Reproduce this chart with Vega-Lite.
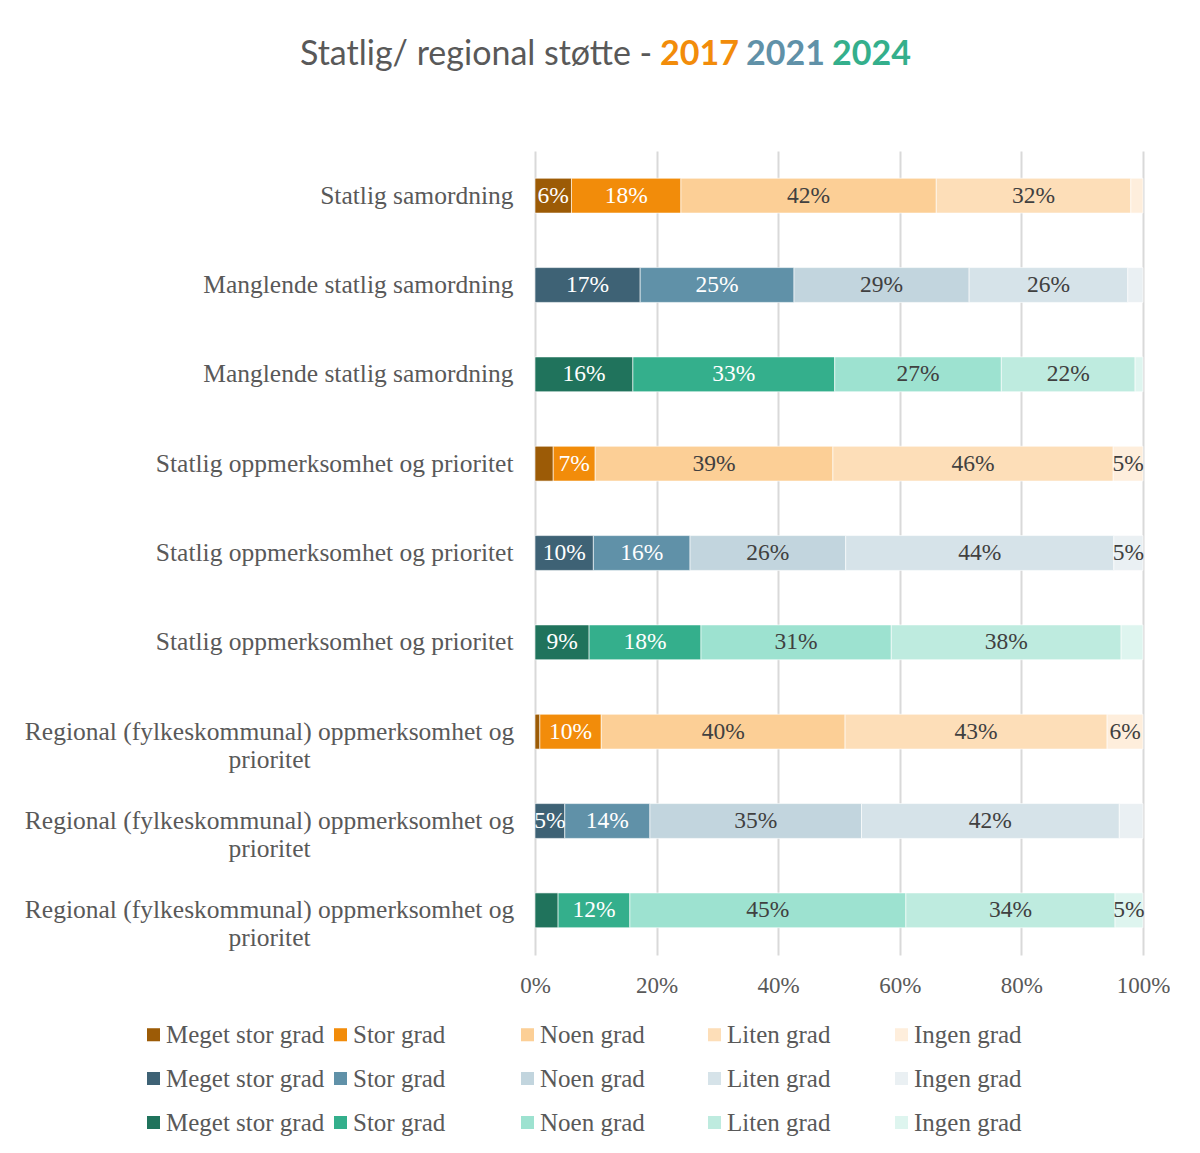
{
  "$schema": "https://vega.github.io/schema/vega-lite/v6.json",
  "background": "white",
  "padding": {"left": 24, "top": 37, "right": 0, "bottom": 10},
  "config": {
    "view": {"stroke": null},
    "font": "Liberation Serif",
    "title": {"font": "Lato", "fontSize": 34, "fontWeight": "normal", "anchor": "start", "offset": 0}
  },
  "datasets": {
    "andeler": [
      {"rad": "Statlig samordning (2017)", "serie": "2017 Meget stor grad", "grad": "Meget stor grad", "nivå": 1, "andel": 0.06},
      {"rad": "Statlig samordning (2017)", "serie": "2017 Stor grad", "grad": "Stor grad", "nivå": 2, "andel": 0.18},
      {"rad": "Statlig samordning (2017)", "serie": "2017 Noen grad", "grad": "Noen grad", "nivå": 3, "andel": 0.42},
      {"rad": "Statlig samordning (2017)", "serie": "2017 Liten grad", "grad": "Liten grad", "nivå": 4, "andel": 0.32},
      {"rad": "Statlig samordning (2017)", "serie": "2017 Ingen grad", "grad": "Ingen grad", "nivå": 5, "andel": 0.02},

      {"rad": "Manglende statlig samordning (2021)", "serie": "2021 Meget stor grad", "grad": "Meget stor grad", "nivå": 1, "andel": 0.173},
      {"rad": "Manglende statlig samordning (2021)", "serie": "2021 Stor grad", "grad": "Stor grad", "nivå": 2, "andel": 0.253},
      {"rad": "Manglende statlig samordning (2021)", "serie": "2021 Noen grad", "grad": "Noen grad", "nivå": 3, "andel": 0.288},
      {"rad": "Manglende statlig samordning (2021)", "serie": "2021 Liten grad", "grad": "Liten grad", "nivå": 4, "andel": 0.261},
      {"rad": "Manglende statlig samordning (2021)", "serie": "2021 Ingen grad", "grad": "Ingen grad", "nivå": 5, "andel": 0.025},

      {"rad": "Manglende statlig samordning (2024)", "serie": "2024 Meget stor grad", "grad": "Meget stor grad", "nivå": 1, "andel": 0.161},
      {"rad": "Manglende statlig samordning (2024)", "serie": "2024 Stor grad", "grad": "Stor grad", "nivå": 2, "andel": 0.332},
      {"rad": "Manglende statlig samordning (2024)", "serie": "2024 Noen grad", "grad": "Noen grad", "nivå": 3, "andel": 0.274},
      {"rad": "Manglende statlig samordning (2024)", "serie": "2024 Liten grad", "grad": "Liten grad", "nivå": 4, "andel": 0.22},
      {"rad": "Manglende statlig samordning (2024)", "serie": "2024 Ingen grad", "grad": "Ingen grad", "nivå": 5, "andel": 0.013},

      {"rad": "Statlig oppmerksomhet og prioritet (2017)", "serie": "2017 Meget stor grad", "grad": "Meget stor grad", "nivå": 1, "andel": 0.03},
      {"rad": "Statlig oppmerksomhet og prioritet (2017)", "serie": "2017 Stor grad", "grad": "Stor grad", "nivå": 2, "andel": 0.069},
      {"rad": "Statlig oppmerksomhet og prioritet (2017)", "serie": "2017 Noen grad", "grad": "Noen grad", "nivå": 3, "andel": 0.391},
      {"rad": "Statlig oppmerksomhet og prioritet (2017)", "serie": "2017 Liten grad", "grad": "Liten grad", "nivå": 4, "andel": 0.461},
      {"rad": "Statlig oppmerksomhet og prioritet (2017)", "serie": "2017 Ingen grad", "grad": "Ingen grad", "nivå": 5, "andel": 0.049},

      {"rad": "Statlig oppmerksomhet og prioritet (2021)", "serie": "2021 Meget stor grad", "grad": "Meget stor grad", "nivå": 1, "andel": 0.096},
      {"rad": "Statlig oppmerksomhet og prioritet (2021)", "serie": "2021 Stor grad", "grad": "Stor grad", "nivå": 2, "andel": 0.159},
      {"rad": "Statlig oppmerksomhet og prioritet (2021)", "serie": "2021 Noen grad", "grad": "Noen grad", "nivå": 3, "andel": 0.256},
      {"rad": "Statlig oppmerksomhet og prioritet (2021)", "serie": "2021 Liten grad", "grad": "Liten grad", "nivå": 4, "andel": 0.441},
      {"rad": "Statlig oppmerksomhet og prioritet (2021)", "serie": "2021 Ingen grad", "grad": "Ingen grad", "nivå": 5, "andel": 0.048},

      {"rad": "Statlig oppmerksomhet og prioritet (2024)", "serie": "2024 Meget stor grad", "grad": "Meget stor grad", "nivå": 1, "andel": 0.089},
      {"rad": "Statlig oppmerksomhet og prioritet (2024)", "serie": "2024 Stor grad", "grad": "Stor grad", "nivå": 2, "andel": 0.184},
      {"rad": "Statlig oppmerksomhet og prioritet (2024)", "serie": "2024 Noen grad", "grad": "Noen grad", "nivå": 3, "andel": 0.313},
      {"rad": "Statlig oppmerksomhet og prioritet (2024)", "serie": "2024 Liten grad", "grad": "Liten grad", "nivå": 4, "andel": 0.378},
      {"rad": "Statlig oppmerksomhet og prioritet (2024)", "serie": "2024 Ingen grad", "grad": "Ingen grad", "nivå": 5, "andel": 0.036},

      {"rad": "Regional (fylkeskommunal) oppmerksomhet og prioritet (2017)", "serie": "2017 Meget stor grad", "grad": "Meget stor grad", "nivå": 1, "andel": 0.008},
      {"rad": "Regional (fylkeskommunal) oppmerksomhet og prioritet (2017)", "serie": "2017 Stor grad", "grad": "Stor grad", "nivå": 2, "andel": 0.101},
      {"rad": "Regional (fylkeskommunal) oppmerksomhet og prioritet (2017)", "serie": "2017 Noen grad", "grad": "Noen grad", "nivå": 3, "andel": 0.401},
      {"rad": "Regional (fylkeskommunal) oppmerksomhet og prioritet (2017)", "serie": "2017 Liten grad", "grad": "Liten grad", "nivå": 4, "andel": 0.431},
      {"rad": "Regional (fylkeskommunal) oppmerksomhet og prioritet (2017)", "serie": "2017 Ingen grad", "grad": "Ingen grad", "nivå": 5, "andel": 0.059},

      {"rad": "Regional (fylkeskommunal) oppmerksomhet og prioritet (2021)", "serie": "2021 Meget stor grad", "grad": "Meget stor grad", "nivå": 1, "andel": 0.049},
      {"rad": "Regional (fylkeskommunal) oppmerksomhet og prioritet (2021)", "serie": "2021 Stor grad", "grad": "Stor grad", "nivå": 2, "andel": 0.14},
      {"rad": "Regional (fylkeskommunal) oppmerksomhet og prioritet (2021)", "serie": "2021 Noen grad", "grad": "Noen grad", "nivå": 3, "andel": 0.348},
      {"rad": "Regional (fylkeskommunal) oppmerksomhet og prioritet (2021)", "serie": "2021 Liten grad", "grad": "Liten grad", "nivå": 4, "andel": 0.424},
      {"rad": "Regional (fylkeskommunal) oppmerksomhet og prioritet (2021)", "serie": "2021 Ingen grad", "grad": "Ingen grad", "nivå": 5, "andel": 0.039},

      {"rad": "Regional (fylkeskommunal) oppmerksomhet og prioritet (2024)", "serie": "2024 Meget stor grad", "grad": "Meget stor grad", "nivå": 1, "andel": 0.038},
      {"rad": "Regional (fylkeskommunal) oppmerksomhet og prioritet (2024)", "serie": "2024 Stor grad", "grad": "Stor grad", "nivå": 2, "andel": 0.118},
      {"rad": "Regional (fylkeskommunal) oppmerksomhet og prioritet (2024)", "serie": "2024 Noen grad", "grad": "Noen grad", "nivå": 3, "andel": 0.454},
      {"rad": "Regional (fylkeskommunal) oppmerksomhet og prioritet (2024)", "serie": "2024 Liten grad", "grad": "Liten grad", "nivå": 4, "andel": 0.344},
      {"rad": "Regional (fylkeskommunal) oppmerksomhet og prioritet (2024)", "serie": "2024 Ingen grad", "grad": "Ingen grad", "nivå": 5, "andel": 0.046}
    ]
  },
  "vconcat": [
    {
      "hconcat": [
        {"width": 1, "height": 1, "title": {"text": "Statlig/ regional støtte -", "color": "#595959", "dx": -235}, "data": {"values": [{}]}, "mark": "text", "encoding": {"text": {"value": ""}}},
        {"width": 1, "height": 1, "title": {"text": "2017", "color": "#F28C0A", "fontWeight": "bold"}, "data": {"values": [{}]}, "mark": "text", "encoding": {"text": {"value": ""}}},
        {"width": 1, "height": 1, "title": {"text": "2021", "color": "#6091A8", "fontWeight": "bold"}, "data": {"values": [{}]}, "mark": "text", "encoding": {"text": {"value": ""}}},
        {"width": 1, "height": 1, "title": {"text": "2024", "color": "#34AF8C", "fontWeight": "bold"}, "data": {"values": [{}]}, "mark": "text", "encoding": {"text": {"value": ""}}}
      ],
      "spacing": 7
    },
    {
      "width": 608,
      "height": 804,
      "data": {"name": "andeler"},
      "encoding": {
        "y": {
          "field": "rad",
          "type": "nominal",
          "sort": null,
          "title": null,
          "scale": {"paddingInner": 0.61, "paddingOuter": 0.305},
          "axis": {
            "domain": false,
            "ticks": false,
            "labelFont": "Liberation Serif",
            "labelFontSize": 25.5,
            "labelColor": "#595959",
            "labelLimit": 600,
            "labelLineHeight": 28,
            "labelExpr": "length(datum.value) > 45 ? split(replace(slice(datum.value, 0, -7), ' prioritet', '|prioritet'), '|') : slice(datum.value, 0, -7)",
            "labelAlign": {"condition": {"test": "length(datum.value) > 45", "value": "center"}, "value": "right"},
            "labelPadding": {"condition": {"test": "length(datum.value) > 45", "value": 266}, "value": 22}
          }
        },
        "x": {
          "field": "andel",
          "type": "quantitative",
          "stack": "zero",
          "title": null,
          "scale": {"domain": [0, 1], "nice": false},
          "axis": {
            "values": [0, 0.2, 0.4, 0.6, 0.8, 1],
            "format": ".0%",
            "domain": false,
            "ticks": false,
            "grid": true,
            "gridColor": "#d9d9d9",
            "gridWidth": 2,
            "labelFlush": false,
            "labelFont": "Liberation Serif",
            "labelFontSize": 23,
            "labelColor": "#595959",
            "labelPadding": 19
          }
        },
        "order": {"field": "nivå", "type": "quantitative"}
      },
      "layer": [
        {
          "mark": {"type": "bar", "stroke": "white", "strokeWidth": 0.6},
          "encoding": {
            "color": {
              "field": "serie",
              "type": "nominal",
              "scale": {
                "domain": ["2017 Meget stor grad", "2017 Stor grad", "2017 Noen grad", "2017 Liten grad", "2017 Ingen grad",
                           "2021 Meget stor grad", "2021 Stor grad", "2021 Noen grad", "2021 Liten grad", "2021 Ingen grad",
                           "2024 Meget stor grad", "2024 Stor grad", "2024 Noen grad", "2024 Liten grad", "2024 Ingen grad"],
                "range": ["#9C5B06", "#F28C0A", "#FCCF96", "#FDDEB8", "#FEEEDC",
                          "#3E6275", "#6091A8", "#C2D5DE", "#D6E3E9", "#EAF0F3",
                          "#20735C", "#34AF8C", "#9DE2D0", "#BEEBDF", "#DEF5EF"]
              },
              "legend": {
                "title": null,
                "orient": "none",
                "legendX": -394,
                "legendY": 941,
                "direction": "horizontal",
                "columns": 5,
                "gridAlign": "all",
                "symbolType": "square",
                "symbolSize": 170,
                "symbolStrokeWidth": 0,
                "labelFont": "Liberation Serif",
                "labelFontSize": 25,
                "labelColor": "#595959",
                "labelLimit": 300,
                "labelOffset": 0,
                "columnPadding": 3,
                "rowPadding": 18,
                "labelExpr": "slice(datum.label, 5)"
              }
            }
          }
        },
        {
          "mark": {"type": "text", "font": "Liberation Serif", "fontSize": 23.5, "baseline": "middle"},
          "encoding": {
            "x": {"field": "andel", "type": "quantitative", "stack": "zero", "bandPosition": 0.5},
            "detail": {"field": "serie"},
            "text": {"field": "andel", "type": "quantitative", "format": ".0%"},
            "opacity": {"condition": {"test": "datum.andel < 0.045", "value": 0}, "value": 1},
            "color": {
              "condition": {"test": "datum.nivå <= 2", "value": "white"},
              "value": "#404040"
            }
          }
        }
      ]
    }
  ],
  "spacing": 64
}
